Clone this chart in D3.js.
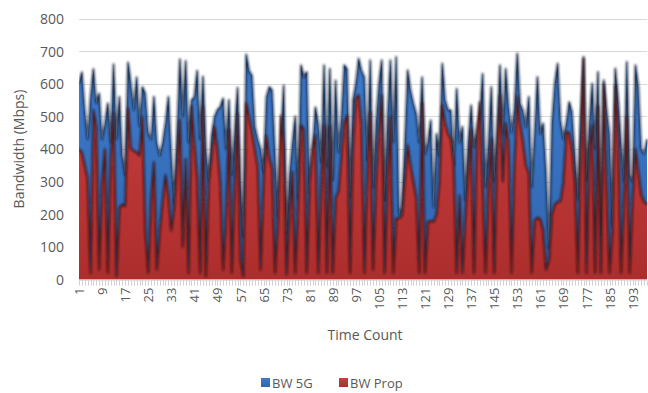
<!DOCTYPE html>
<html><head><meta charset="utf-8">
<script src="https://cdn.jsdelivr.net/npm/d3@7"></script>
<style>
body{margin:0;background:#fff}
svg{display:block}
text{font-family:"Open Sans",sans-serif;fill:#595959}
</style>
</head><body>
<svg id="chart" width="648" height="393"></svg>
<script>
// ---- data ----
const bw5g = [
600,635,520,430,560,645,540,570,430,480,
540,420,660,430,560,380,320,665,600,520,
620,470,590,570,450,430,560,420,380,420,
480,560,390,230,450,675,500,670,420,550,
560,640,430,622,400,305,440,500,520,530,
555,400,550,320,450,588,300,130,690,640,
625,470,430,400,330,560,590,580,390,195,
420,595,140,320,420,500,245,657,620,636,
263,400,528,478,360,657,345,646,304,610,
390,500,657,645,250,550,600,677,640,620,
365,672,283,480,600,672,243,500,672,420,
682,200,220,420,641,580,540,508,420,620,
385,420,488,222,447,380,662,550,520,518,
350,585,420,468,243,420,534,406,450,500,
631,283,420,590,300,450,657,447,646,529,
450,520,693,539,518,467,560,283,450,621,
447,478,330,96,478,600,662,488,430,480,
544,514,380,243,500,682,300,480,601,400,
636,140,611,520,447,160,647,550,420,300,
667,320,300,657,590,400,385,430
];
const bwProp = [
400,390,350,310,20,520,470,30,300,400,
20,380,510,10,220,230,225,525,400,395,
390,380,500,150,20,250,360,30,150,240,
320,260,150,220,350,490,100,370,20,530,
420,310,20,530,10,300,376,470,400,300,
30,200,460,20,300,508,60,10,540,500,
450,400,345,30,300,440,372,340,20,190,
503,400,15,200,330,20,240,473,460,20,
300,400,442,20,300,473,20,470,20,250,
270,380,480,503,20,400,555,565,473,20,
350,513,30,300,460,565,20,300,500,20,
188,188,195,300,412,350,300,250,20,540,
20,177,180,177,200,300,534,480,447,430,
350,20,258,20,200,330,460,20,450,544,
300,20,300,432,20,400,565,300,480,420,
20,350,560,480,420,350,325,20,180,190,
185,150,30,60,200,230,238,240,300,452,
450,400,300,20,400,677,20,400,473,20,
530,20,600,300,20,150,595,450,20,250,
500,20,250,401,330,260,238,230
];
const seriesNames = ["BW 5G", "BW Prop"];
const timeCount = d3.range(1, bw5g.length + 1);
const xTickLabels = [1,9,17,25,33,41,49,57,65,73,81,89,97,105,113,121,129,137,145,153,161,169,177,185,193];
const yTicks = [0,100,200,300,400,500,600,700,800];

// ---- layout ----
const svg = d3.select("#chart");
const pLeft = 79, pRight = 647, pTop = 18.5, pBottom = 279.5;

const x = d3.scalePoint().domain(timeCount).range([pLeft, pRight]);
const y = d3.scaleLinear().domain([0, 800]).range([pBottom, pTop]);

const defs = svg.append("defs");
const gB = defs.append("linearGradient").attr("id","gBlue").attr("x1",0).attr("y1",0).attr("x2",0).attr("y2",1);
gB.append("stop").attr("offset","0%").attr("stop-color","#3f7ccc");
gB.append("stop").attr("offset","100%").attr("stop-color","#2f64ae");
const gR = defs.append("linearGradient").attr("id","gRed").attr("x1",0).attr("y1",0).attr("x2",0).attr("y2",1);
gR.append("stop").attr("offset","0%").attr("stop-color","#c94040");
gR.append("stop").attr("offset","100%").attr("stop-color","#ad2d2d");
const f = defs.append("filter").attr("id","soft").attr("x","-5%").attr("y","-5%").attr("width","110%").attr("height","110%");
f.append("feGaussianBlur").attr("stdDeviation",0.9);
defs.append("clipPath").attr("id","plotClip").append("rect")
  .attr("x",pLeft).attr("y",0).attr("width",pRight-pLeft+1).attr("height",pBottom);

// gridlines
svg.append("g").selectAll("line").data(yTicks.filter(d=>d>0)).join("line")
  .attr("x1",pLeft).attr("x2",pRight).attr("y1",d=>Math.round(y(d))+0.5).attr("y2",d=>Math.round(y(d))+0.5)
  .attr("stroke","#d9d9d9").attr("stroke-width",1);

// y axis labels
const yAxis = d3.axisLeft(y).tickValues(yTicks).tickSize(0).tickPadding(0);
const gy = svg.append("g").attr("transform",`translate(${pLeft-15},0)`).call(yAxis);
gy.select(".domain").remove();
gy.selectAll("text").style("font-size","14px").attr("fill","#595959").attr("dy","0.35em");

// areas
const area = vals => d3.area().x((d,i)=>x(timeCount[i])).y0(y(0)).y1(d=>y(d))(vals);
const line = vals => d3.line().x((d,i)=>x(timeCount[i])).y(d=>y(d))(vals);
const plot = svg.append("g").attr("clip-path","url(#plotClip)");

plot.append("path").attr("d",area(bw5g)).attr("fill","url(#gBlue)");
plot.append("path").attr("d",line(bw5g)).attr("fill","none")
  .attr("stroke","#14233d").attr("stroke-width",2).attr("stroke-opacity",0.85)
  .attr("stroke-linejoin","round").attr("filter","url(#soft)");

plot.append("path").attr("d",area(bwProp)).attr("fill","url(#gRed)");
plot.append("path").attr("d",line(bwProp)).attr("fill","none")
  .attr("stroke","#3a1212").attr("stroke-width",2).attr("stroke-opacity",0.85)
  .attr("stroke-linejoin","round").attr("filter","url(#soft)");

// x axis line and minor ticks
svg.append("line").attr("x1",pLeft).attr("x2",pRight).attr("y1",pBottom+0.5).attr("y2",pBottom+0.5)
  .attr("stroke","#bfbfbf");
svg.append("g").selectAll("line").data(timeCount).join("line")
  .attr("x1",d=>Math.round(x(d))+0.5).attr("x2",d=>Math.round(x(d))+0.5)
  .attr("y1",pBottom+1).attr("y2",pBottom+6).attr("stroke","#d0d0d0").attr("stroke-width",1);

// x labels
const xAxis = d3.axisBottom(x).tickValues(xTickLabels).tickSize(0).tickPadding(0);
const gx = svg.append("g").attr("transform",`translate(0,${pBottom+8})`).call(xAxis);
gx.select(".domain").remove();
gx.selectAll("text").style("font-size","13px").attr("fill","#595959")
  .attr("transform","rotate(-90)").attr("text-anchor","end")
  .attr("x",0).attr("y",0).attr("dx","0").attr("dy","0.35em");

// axis titles
svg.append("text").attr("x",365).attr("y",340).attr("text-anchor","middle")
  .style("font-size","14px").text("Time Count");
svg.append("text").attr("transform","translate(24,149) rotate(-90)").attr("text-anchor","middle")
  .style("font-size","14px").text("Bandwidth (Mbps)");

// legend
const legend = svg.append("g");
const legendItems = [{name:seriesNames[0], fill:"url(#gBlue)", x:261},{name:seriesNames[1], fill:"url(#gRed)", x:339}];
legendItems.forEach(it=>{
  legend.append("rect").attr("x",it.x).attr("y",378).attr("width",9).attr("height",9).attr("fill",it.fill);
  legend.append("text").attr("x",it.x+11).attr("y",388).style("font-size","13px").text(it.name);
});
</script>
</body></html>
